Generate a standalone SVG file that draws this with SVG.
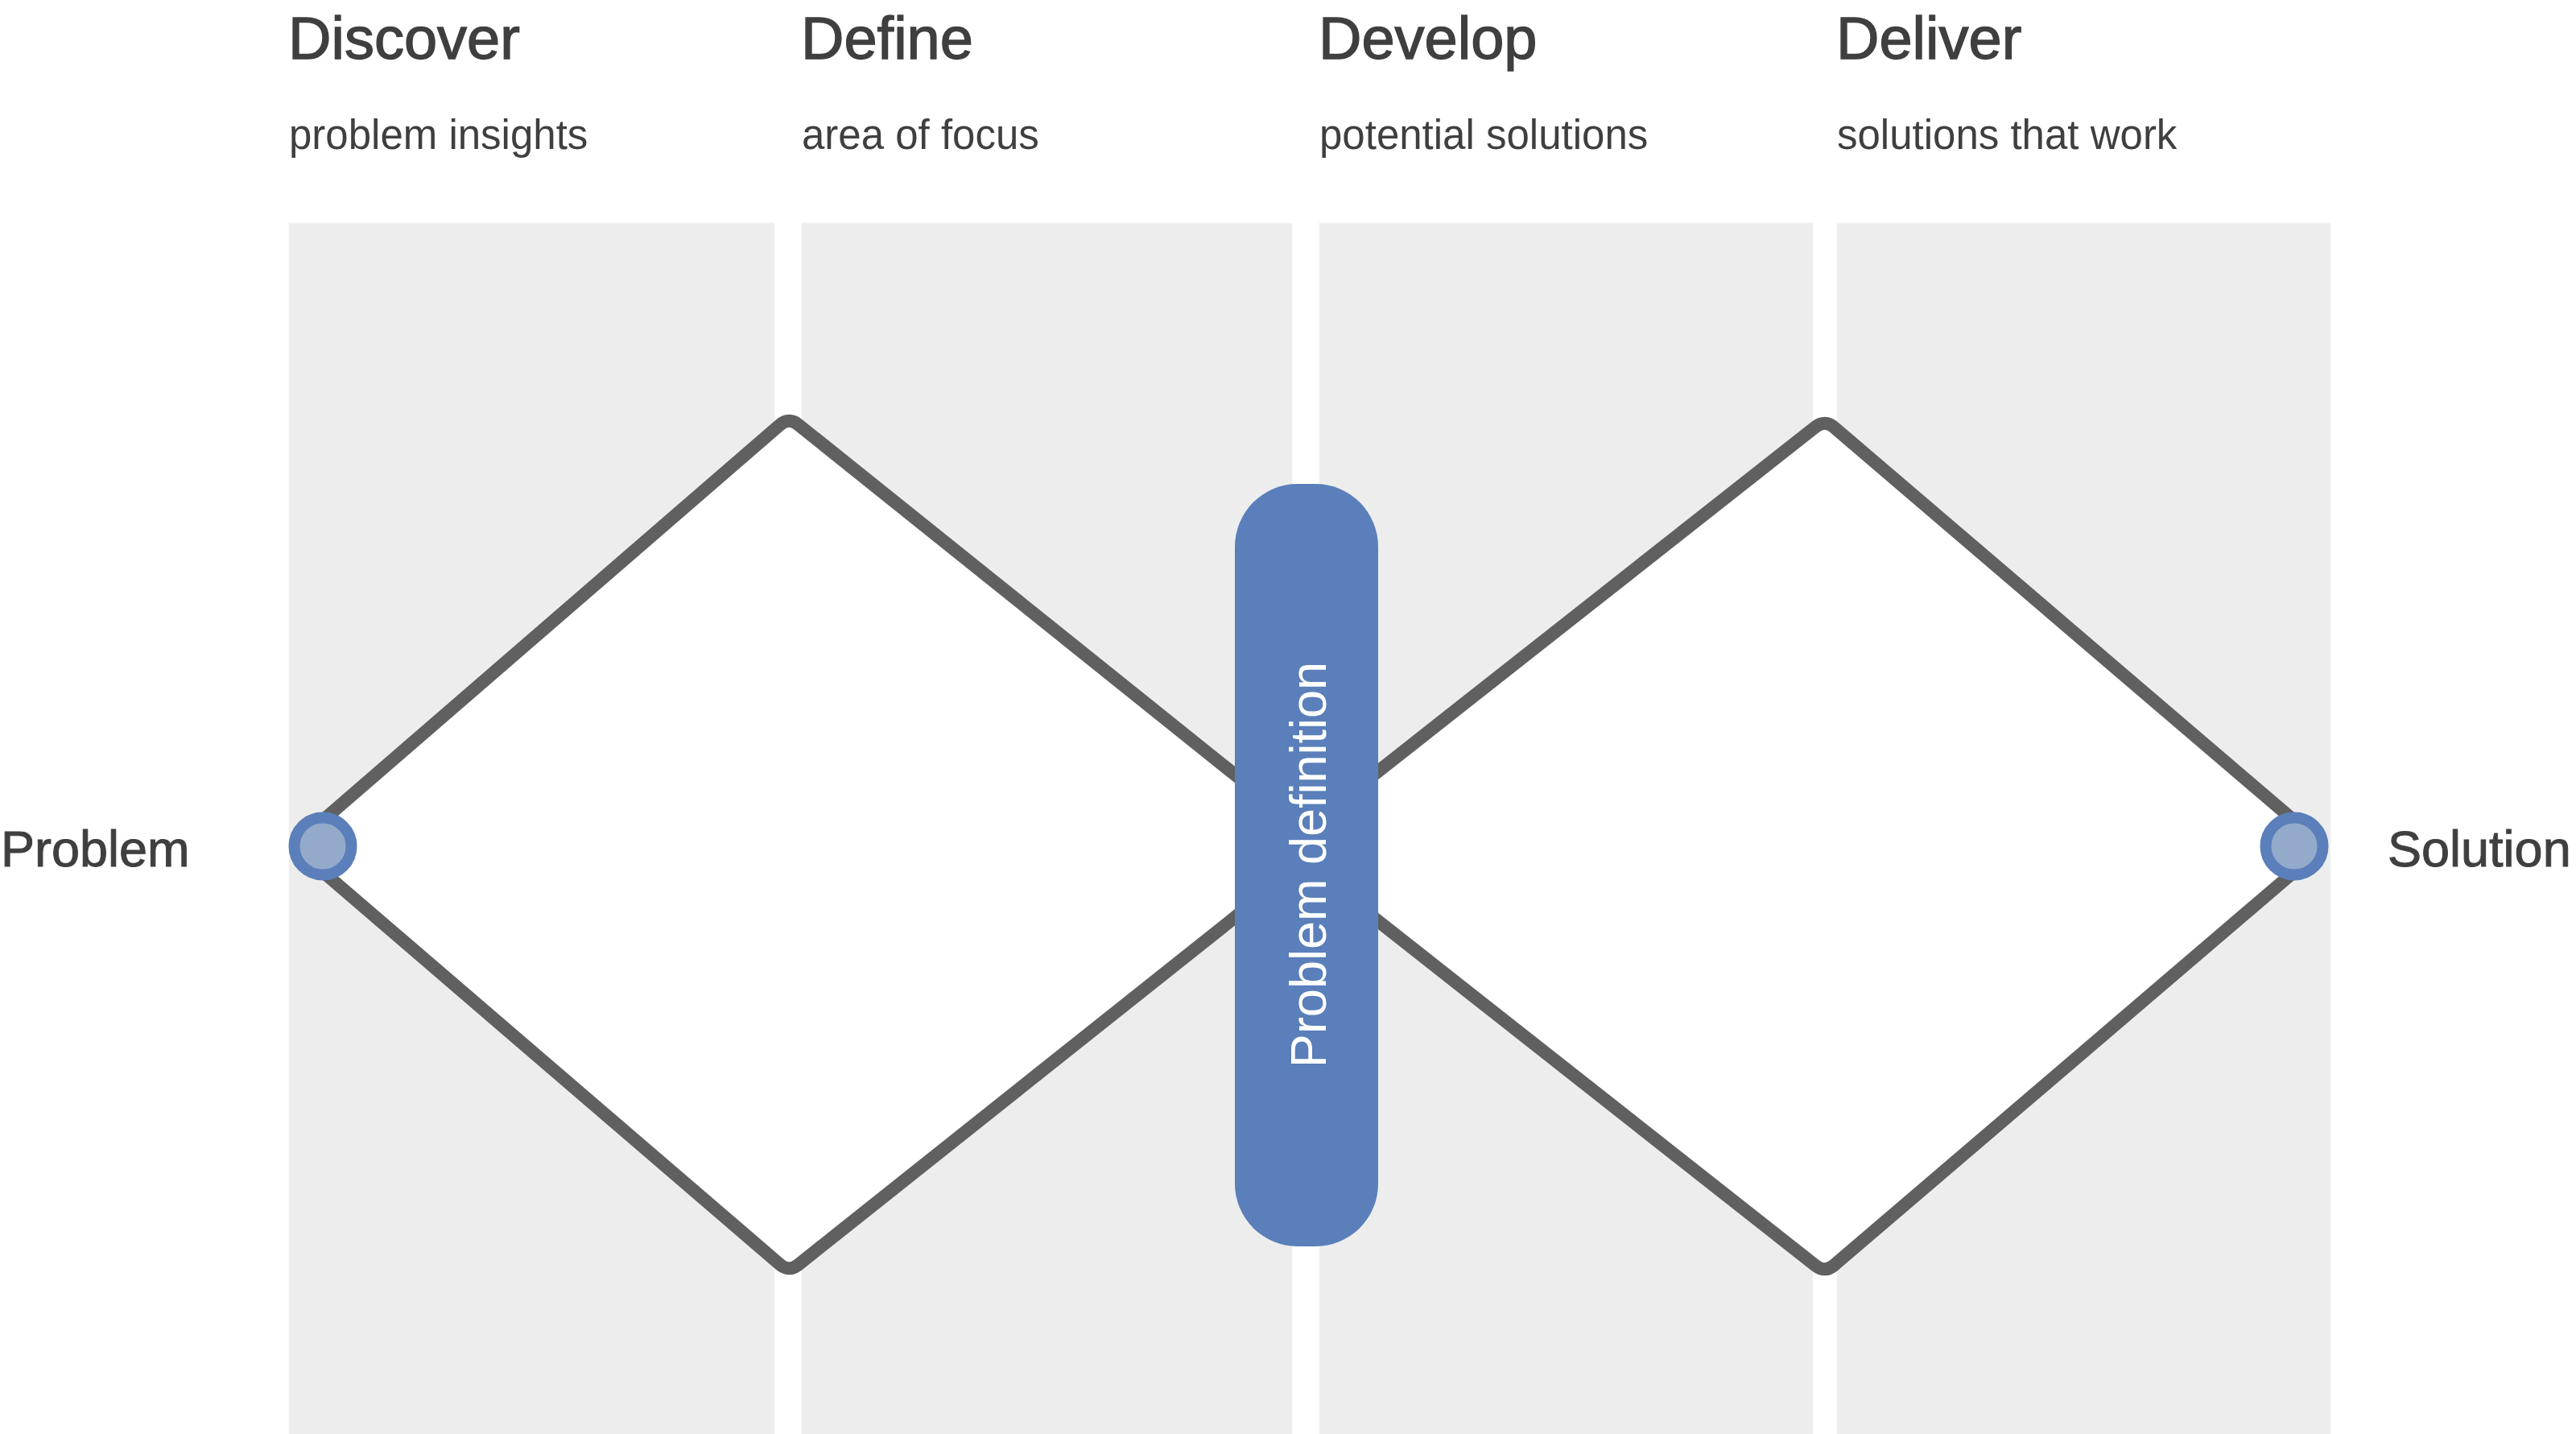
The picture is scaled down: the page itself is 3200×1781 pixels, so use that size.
<svg xmlns="http://www.w3.org/2000/svg" width="3200" height="1781" viewBox="0 0 3200 1781">
<style>
.col{fill:#ededed;stroke:#f4f4f4;stroke-width:1}
.head{font-family:"Liberation Sans",Arial,sans-serif;font-size:74px;fill:#3f3f3f;stroke:#3f3f3f;stroke-width:1.4}
.sub{font-family:"Liberation Sans",Arial,sans-serif;font-size:51px;fill:#3f3f3f}
.side{font-family:"Liberation Sans",Arial,sans-serif;font-size:63px;fill:#3f3f3f;stroke:#3f3f3f;stroke-width:1}
.dia{fill:#ffffff;stroke:#606060;stroke-width:16;stroke-linejoin:round}
.dot{fill:#94aacb;stroke:#5a7fba;stroke-width:14}
.pill{fill:#5a7fba}
.pilltext{font-family:"Liberation Sans",Arial,sans-serif;font-size:63px;fill:#ffffff}
</style>
<rect width="3200" height="1781" fill="#ffffff"/>
<g id="columns">
<rect class="col" x="359" y="277" width="603" height="1510"/>
<rect class="col" x="996" y="277" width="609" height="1510"/>
<rect class="col" x="1639" y="277" width="613" height="1510"/>
<rect class="col" x="2282" y="277" width="613" height="1510"/>
</g>
<g id="headings">
<text class="head" x="358" y="73">Discover</text>
<text class="sub" x="359" y="185">problem insights</text>
<text class="head" x="995" y="73">Define</text>
<text class="sub" x="996" y="185">area of focus</text>
<text class="head" x="1638" y="73">Develop</text>
<text class="sub" x="1639" y="185">potential solutions</text>
<text class="head" x="2281" y="73">Deliver</text>
<text class="sub" x="2282" y="185">solutions that work</text>
</g>
<g id="connectors">
<path id="diamond-left" class="dia" d="M 394.2,1024.8 L 968.7,527.8 Q 980,518 991.7,527.4 L 1613.8,1026 Q 1645,1051 1613.7,1075.9 L 991.7,1570.7 Q 980,1580 968.6,1570.2 L 394.4,1077 Q 364,1051 394.2,1024.8 Z"/>
<path id="diamond-right" class="dia" d="M 1625.4,1026.2 L 2255.2,530.3 Q 2267,521 2278.4,530.8 L 2856.6,1025 Q 2887,1051 2856.6,1077 L 2278.4,1571.3 Q 2267,1581 2255.2,1571.7 L 1625.4,1075.8 Q 1594,1051 1625.4,1026.2 Z"/>
</g>
<g id="node-problem">
<circle class="dot" cx="401" cy="1051" r="35.5"/>
<text class="side" x="1" y="1076">Problem</text>
</g>
<g id="node-solution">
<circle class="dot" cx="2850" cy="1051" r="35.5"/>
<text class="side" x="2966" y="1076">Solution</text>
</g>
<g id="node-problem-definition">
<rect class="pill" x="1534" y="601" width="178" height="947" rx="78" ry="78"/>
<text class="pilltext" transform="translate(1647,1074) rotate(-90)" text-anchor="middle" x="0" y="0">Problem definition</text>
</g>
</svg>
